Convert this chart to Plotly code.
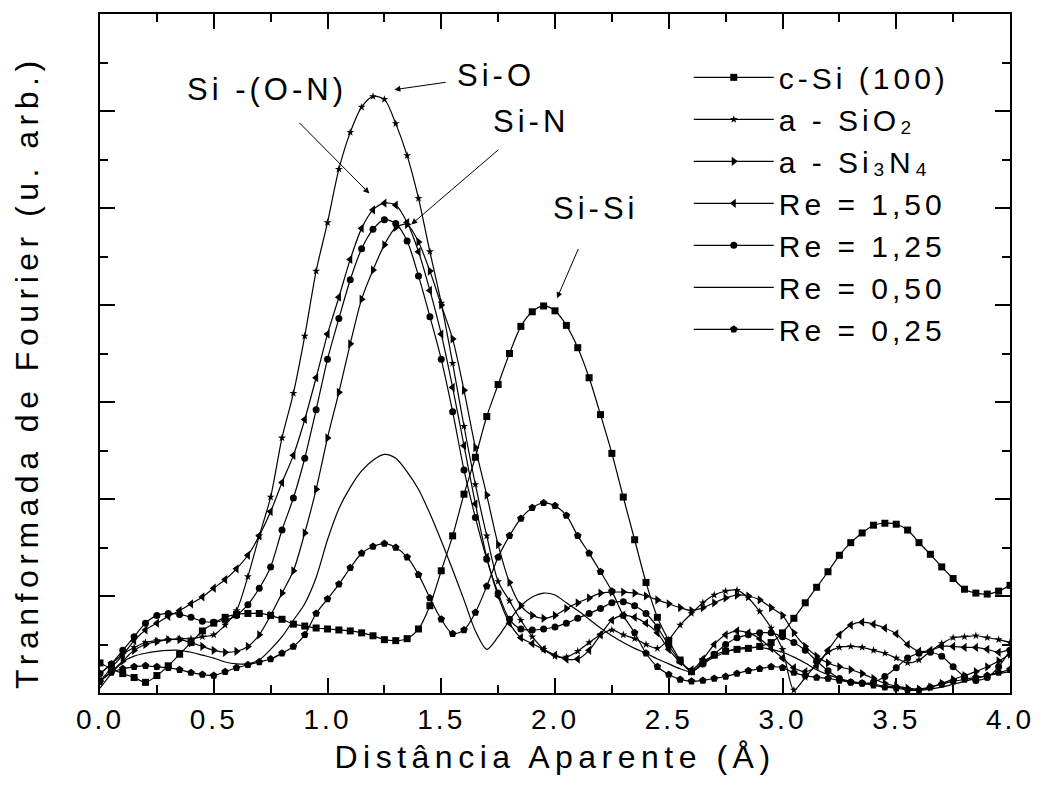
import plotly.graph_objects as go

# x grid (Å)
x_vals = [round(i * 0.05, 2) for i in range(81)]

c_si = [0.31, 0.25, 0.20, 0.16, 0.11, 0.18, 0.28, 0.40, 0.52, 0.64,
        0.72, 0.78, 0.81, 0.82, 0.82, 0.80, 0.76, 0.71, 0.69, 0.67,
        0.66, 0.65, 0.64, 0.62, 0.59, 0.55, 0.54, 0.56, 0.66, 0.90,
        1.26, 1.62, 2.05, 2.43, 2.85, 3.18, 3.50, 3.78, 3.93, 3.99,
        3.94, 3.79, 3.56, 3.25, 2.87, 2.47, 2.02, 1.58, 1.14, 0.78,
        0.54, 0.34, 0.22, 0.32, 0.39, 0.43, 0.45, 0.46, 0.48, 0.52,
        0.62, 0.77, 0.93, 1.09, 1.25, 1.42, 1.55, 1.65, 1.73, 1.75,
        1.74, 1.68, 1.55, 1.43, 1.30, 1.18, 1.07, 1.03, 1.02, 1.05,
        1.11]

a_sio2 = [0.20, 0.30, 0.40, 0.47, 0.52, 0.54, 0.55, 0.56, 0.56, 0.58,
          0.60, 0.70, 0.85, 1.20, 1.62, 2.02, 2.63, 3.09, 3.68, 4.35,
          4.85, 5.40, 5.78, 6.04, 6.15, 6.12, 5.87, 5.54, 5.10, 4.55,
          4.02, 3.40, 2.75, 2.15, 1.62, 1.15, 0.95, 0.75, 0.58, 0.45,
          0.38, 0.37, 0.43, 0.52, 0.60, 0.65, 0.60, 0.56, 0.50, 0.46,
          0.55, 0.70, 0.82, 0.93, 1.01, 1.05, 1.06, 0.98, 0.84, 0.67,
          0.45, 0.03, 0.16, 0.30, 0.42, 0.47, 0.48, 0.47, 0.44, 0.41,
          0.36, 0.31, 0.34, 0.43, 0.51, 0.57, 0.58, 0.59, 0.57, 0.55,
          0.52]

a_si3n4 = [0.12, 0.22, 0.33, 0.44, 0.50, 0.53, 0.55, 0.55, 0.52, 0.48,
           0.44, 0.42, 0.43, 0.48, 0.60, 0.80, 1.03, 1.26, 1.65, 2.10,
           2.63, 3.10, 3.60, 4.06, 4.36, 4.62, 4.80, 4.83, 4.65, 4.35,
           4.00, 3.65, 3.12, 2.53, 2.04, 1.53, 1.14, 0.90, 0.80, 0.77,
           0.80, 0.87, 0.93, 0.98, 1.03, 1.04, 1.04, 1.03, 1.00, 0.96,
           0.92, 0.88, 0.85, 0.88, 0.93, 0.98, 1.01, 1.00, 0.96, 0.88,
           0.80, 0.62, 0.48, 0.38, 0.31, 0.27, 0.24, 0.20, 0.15, 0.10,
           0.07, 0.05, 0.04, 0.06, 0.10, 0.14, 0.18, 0.22, 0.27, 0.33,
           0.40]

re_150 = [0.12, 0.26, 0.39, 0.54, 0.65, 0.72, 0.79, 0.85, 0.92, 0.99,
          1.08, 1.17, 1.28, 1.42, 1.62, 1.87, 2.17, 2.45, 2.82, 3.25,
          3.70, 4.08, 4.47, 4.79, 4.98, 5.05, 5.03, 4.85, 4.55, 4.15,
          3.70, 3.15, 2.55, 1.95, 1.40, 1.00, 0.72, 0.57, 0.51, 0.45,
          0.39, 0.35, 0.35, 0.44, 0.60, 0.75, 0.80, 0.78, 0.72, 0.62,
          0.45, 0.32, 0.24, 0.35, 0.50, 0.60, 0.64, 0.62, 0.56, 0.46,
          0.36, 0.26, 0.22, 0.28, 0.44, 0.60, 0.70, 0.73, 0.71, 0.67,
          0.61, 0.50, 0.43, 0.44, 0.48, 0.48, 0.47, 0.47, 0.45, 0.42,
          0.45]

re_125 = [0.20, 0.30, 0.44, 0.58, 0.72, 0.80, 0.82, 0.81, 0.78, 0.74,
          0.73, 0.75, 0.80, 0.91, 1.08, 1.30, 1.68, 2.01, 2.42, 2.92,
          3.44, 3.86, 4.26, 4.58, 4.78, 4.88, 4.84, 4.66, 4.30, 3.88,
          3.44, 2.90, 2.30, 1.81, 1.38, 1.03, 0.76, 0.66, 0.65, 0.66,
          0.68, 0.72, 0.77, 0.82, 0.87, 0.93, 0.94, 0.90, 0.82, 0.68,
          0.49, 0.33, 0.22, 0.30, 0.40, 0.50, 0.57, 0.60, 0.62, 0.62,
          0.58, 0.52, 0.44, 0.33, 0.23, 0.15, 0.11, 0.10, 0.11, 0.17,
          0.26, 0.36, 0.41, 0.42, 0.38, 0.27, 0.17, 0.13, 0.16, 0.27,
          0.44]

re_050 = [0.05, 0.20, 0.32, 0.38, 0.41, 0.43, 0.44, 0.44, 0.42, 0.39,
          0.36, 0.32, 0.30, 0.30, 0.34, 0.45, 0.58, 0.75, 0.92, 1.19,
          1.58, 1.90, 2.12, 2.29, 2.40, 2.46, 2.42, 2.28, 2.10, 1.85,
          1.57, 1.27, 0.96, 0.64, 0.45, 0.58, 0.75, 0.90, 0.99, 1.03,
          1.01, 0.93, 0.85, 0.76, 0.67, 0.59, 0.52, 0.46, 0.41, 0.35,
          0.30, 0.25, 0.22, 0.30, 0.37, 0.42, 0.46, 0.47, 0.47, 0.45,
          0.42, 0.37, 0.31, 0.24, 0.19, 0.15, 0.12, 0.10, 0.09, 0.07,
          0.06, 0.04, 0.03, 0.04, 0.06, 0.09, 0.12, 0.15, 0.18, 0.20,
          0.22]

re_025 = [0.12, 0.21, 0.25, 0.27, 0.28, 0.27, 0.26, 0.24, 0.21, 0.19,
          0.18, 0.22, 0.26, 0.29, 0.32, 0.35, 0.41, 0.48, 0.60, 0.82,
          0.97, 1.12, 1.29, 1.44, 1.51, 1.54, 1.50, 1.40, 1.22, 0.98,
          0.76, 0.61, 0.65, 0.83, 1.10, 1.40, 1.62, 1.80, 1.91, 1.96,
          1.93, 1.83, 1.62, 1.44, 1.25, 1.05, 0.80, 0.62, 0.41, 0.27,
          0.19, 0.14, 0.12, 0.13, 0.15, 0.17, 0.20, 0.23, 0.25, 0.27,
          0.26, 0.21, 0.18, 0.16, 0.15, 0.13, 0.11, 0.10, 0.08, 0.06,
          0.05, 0.03, 0.03, 0.06, 0.09, 0.12, 0.14, 0.16, 0.18, 0.21,
          0.24]

series_names = ["c-Si (100)", "a - SiO₂", "a - Si₃N₄",
                "Re = 1,50", "Re = 1,25", "Re = 0,50", "Re = 0,25"]
series_data = [c_si, a_sio2, a_si3n4, re_150, re_125, re_050, re_025]
series_symbols = ["square", "star", "triangle-right", "triangle-left", "circle", None, "pentagon"]
series_msize = [7, 6, 8, 8, 7, 0, 8]

x_ticks = [0.0, 0.5, 1.0, 1.5, 2.0, 2.5, 3.0, 3.5, 4.0]

# peak labels: text, label centre (x, y), arrow tip (x, y), gap at arrow start
peak_labels = ["Si -(O-N)", "Si-O", "Si-N", "Si-Si"]
label_pos = [(0.732, 6.22), (1.741, 6.37), (1.895, 5.89), (2.18, 5.0)]
arrow_tip = [(1.184, 5.15), (1.294, 6.22), (1.368, 4.83), (2.009, 4.07)]
arrow_gap = [20, 18, 14, 24]

FONT = "Liberation Sans, Arial, sans-serif"

fig = go.Figure()
for name, ys, sym, ms in zip(series_names, series_data, series_symbols, series_msize):
    if sym is None:
        fig.add_trace(go.Scatter(x=x_vals, y=ys, name=name, mode="lines",
                                 line=dict(color="black", width=1.2, shape="spline", smoothing=0.8)))
    else:
        fig.add_trace(go.Scatter(x=x_vals, y=ys, name=name, mode="lines+markers",
                                 line=dict(color="black", width=1.2, shape="spline", smoothing=0.8),
                                 marker=dict(symbol=sym, size=ms, color="black",
                                             line=dict(width=0))))

axis_common = dict(
    showgrid=False, zeroline=False, showline=True, linecolor="black", linewidth=2,
    mirror="ticks", ticks="inside", ticklen=15, tickwidth=1.5, tickcolor="black",
)

fig.update_xaxes(range=[0, 4], tickvals=x_ticks, tickformat=".1f",
                 tickfont=dict(size=28, family=FONT, color="black"),
                 title=dict(text="Distância Aparente (Å)", font=dict(size=32, family=FONT, color="black"),
                            standoff=12),
                 minor=dict(ticks="inside", ticklen=8, dtick=0.25, tickwidth=1.5, tickcolor="black"),
                 **axis_common)
fig.update_yaxes(range=[0, 7], dtick=1, tick0=0, showticklabels=False,
                 minor=dict(ticks="inside", ticklen=8, dtick=0.5, tickwidth=1.5, tickcolor="black"),
                 **axis_common)

# y-axis title as a rotated annotation
fig.add_annotation(text="Tranformada de Fourier (u. arb.)", x=-0.080, y=0.473,
                   xref="paper", yref="paper", xanchor="center", yanchor="middle",
                   textangle=-90, showarrow=False,
                   font=dict(size=32, family=FONT, color="black"))

for t, (lx, ly), (hx, hy), g in zip(peak_labels, label_pos, arrow_tip, arrow_gap):
    fig.add_annotation(text=t, x=hx, y=hy, ax=lx, ay=ly, xref="x", yref="y", axref="x", ayref="y",
                       showarrow=True, arrowhead=2, arrowsize=1.2, arrowwidth=1, arrowcolor="black",
                       startstandoff=g, standoff=0,
                       font=dict(size=31, family=FONT, color="black"))

fig.update_layout(
    width=1041, height=795, autosize=False,
    margin=dict(l=100, r=29, t=12, b=102),
    paper_bgcolor="white", plot_bgcolor="white",
    font=dict(family=FONT, color="black"),
    legend=dict(x=0.647, y=0.945, xanchor="left", yanchor="top", font=dict(size=30, family=FONT, color="black"),
                itemwidth=80, bgcolor="rgba(0,0,0,0)", borderwidth=0, tracegroupgap=0),
)

# the original typesetting uses wide letter spacing
spacing_js = """
var gd = document.getElementById('{plot_id}');
function sp(sel, v) { gd.querySelectorAll(sel).forEach(function(t){ t.style.letterSpacing = v; }); }
sp('g.xtick text', '3px');
sp('text.xtitle', '5.5px');
sp('text.legendtext', '4px');
sp('text.annotation-text', '4px');
gd.querySelectorAll('text.annotation-text').forEach(function(t){
  if (t.textContent.indexOf('Fourier') >= 0) { t.style.letterSpacing = '5.5px'; }
});
gd.querySelectorAll('.legend [clip-path]').forEach(function(e){ e.removeAttribute('clip-path'); });
gd.querySelectorAll('.legend').forEach(function(e){ e.style.overflow = 'visible'; });
"""

fig.write_html("out.html", post_script=spacing_js)
